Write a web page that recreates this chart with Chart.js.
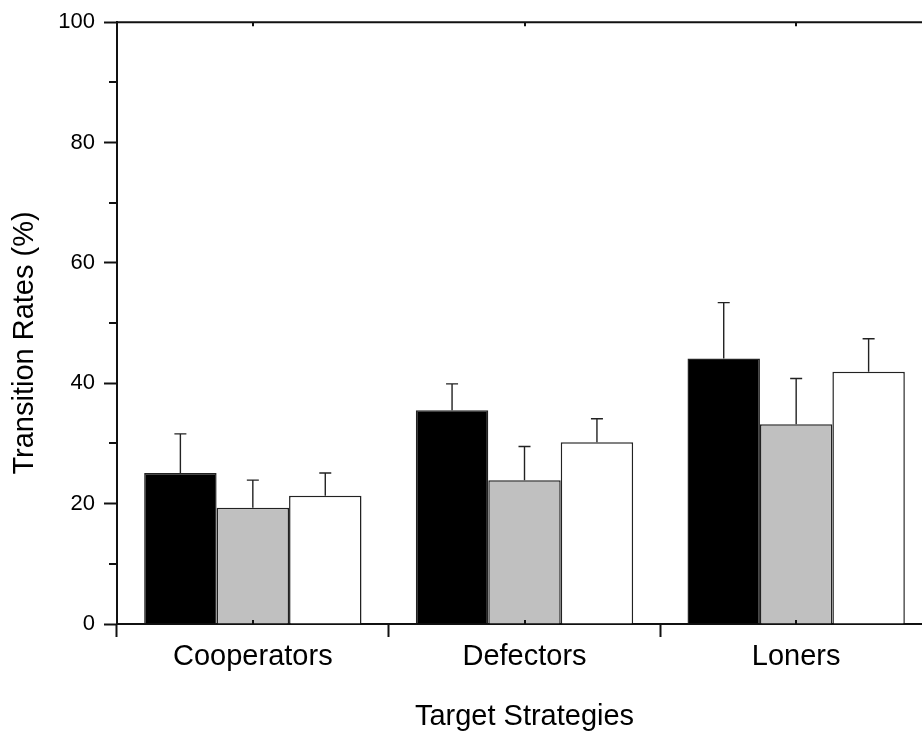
<!DOCTYPE html>
<html>
<head>
<meta charset="utf-8">
<script src="https://cdn.jsdelivr.net/npm/chart.js@4.4.1/dist/chart.umd.min.js"></script>
<style>
  html, body { margin: 0; padding: 0; background: #fff; overflow: hidden; }
  #wrap { width: 932px; height: 744px; }
</style>
</head>
<body>
<div id="wrap"><canvas id="chart" width="932" height="744"></canvas></div>
<script>
const categories = ['Cooperators', 'Defectors', 'Loners'];

const blackValues = [25.1, 35.5, 44.1];
const blackErrors = [6.5, 4.4, 9.3];
const grayValues = [19.3, 23.9, 33.2];
const grayErrors = [4.6, 5.6, 7.6];
const whiteValues = [21.3, 30.2, 41.9];
const whiteErrors = [3.8, 3.9, 5.5];

const yTicks = [0, 20, 40, 60, 80, 100];
const yMinorTicks = [10, 30, 50, 70, 90];

const FONT = "'Liberation Sans', Arial, sans-serif";

// draws the upper error bars, minor ticks, top frame line and y title
const extrasPlugin = {
    id: 'extras',
    afterDatasetsDraw(chart) {
        const ctx = chart.ctx;
        const y = chart.scales.y;
        ctx.save();
        ctx.strokeStyle = '#222';
        ctx.lineWidth = 1.4;
        chart.data.datasets.forEach((ds, di) => {
            const meta = chart.getDatasetMeta(di);
            meta.data.forEach((bar, i) => {
                const top = y.getPixelForValue(ds.data[i] + ds.errors[i]);
                ctx.beginPath();
                ctx.moveTo(bar.x, bar.y);
                ctx.lineTo(bar.x, top);
                ctx.moveTo(bar.x - 6, top);
                ctx.lineTo(bar.x + 6, top);
                ctx.stroke();
            });
        });
        ctx.restore();
    },
    afterDraw(chart) {
        const ctx = chart.ctx;
        const area = chart.chartArea;
        const x = chart.scales.x;
        const y = chart.scales.y;
        ctx.save();
        ctx.strokeStyle = '#111';
        ctx.lineWidth = 2;

        // top frame line
        ctx.beginPath();
        ctx.moveTo(area.left - 1, area.top);
        ctx.lineTo(area.right, area.top);
        ctx.stroke();

        // minor y ticks, outside
        yMinorTicks.forEach(v => {
            const py = Math.round(y.getPixelForValue(v));
            ctx.beginPath();
            ctx.moveTo(area.left - 8, py);
            ctx.lineTo(area.left, py);
            ctx.stroke();
        });

        // minor x ticks at category centres, inside, bottom and top
        categories.forEach((c, i) => {
            const px = Math.round(x.getPixelForValue(i));
            ctx.beginPath();
            ctx.moveTo(px, area.bottom);
            ctx.lineTo(px, area.bottom - 4);
            ctx.moveTo(px, area.top);
            ctx.lineTo(px, area.top + 4);
            ctx.stroke();
        });

        // y axis title
        ctx.fillStyle = '#000';
        ctx.font = '29px ' + FONT;
        ctx.textAlign = 'center';
        ctx.textBaseline = 'middle';
        ctx.translate(25, 343);
        ctx.rotate(-Math.PI / 2);
        ctx.fillText('Transition Rates (%)', 0, 0);
        ctx.restore();
    }
};

const barStyle = { borderColor: '#222', borderWidth: 1.5, barPercentage: 1.0, categoryPercentage: 0.8 };

new Chart(document.getElementById('chart'), {
    type: 'bar',
    data: {
        labels: categories,
        datasets: [
            { label: 'Black', data: blackValues, errors: blackErrors, backgroundColor: '#000', ...barStyle },
            { label: 'Gray', data: grayValues, errors: grayErrors, backgroundColor: '#c0c0c0', ...barStyle },
            { label: 'White', data: whiteValues, errors: whiteErrors, backgroundColor: '#fff', ...barStyle }
        ]
    },
    options: {
        responsive: false,
        animation: false,
        events: [],
        layout: { padding: { top: 21, right: 0, left: 0, bottom: 0 } },
        plugins: { legend: { display: false }, tooltip: { enabled: false } },
        scales: {
            x: {
                offset: true,
                afterFit(scale) { scale.height = 120; },
                grid: { offset: true, drawOnChartArea: false, drawTicks: true, tickLength: 13, tickColor: '#111', tickWidth: 2 },
                border: { color: '#111', width: 2 },
                ticks: { color: '#000', font: { family: FONT, size: 29 }, padding: 3, maxRotation: 0 },
                title: {
                    display: true,
                    text: 'Target Strategies',
                    color: '#000',
                    font: { family: FONT, size: 29, lineHeight: 1 },
                    padding: { top: 0, bottom: 13 }
                }
            },
            y: {
                min: 0,
                max: 100,
                afterFit(scale) { scale.width = 117; },
                afterBuildTicks(scale) { scale.ticks = yTicks.map(v => ({ value: v })); },
                grid: { drawOnChartArea: false, drawTicks: true, tickLength: 13, tickColor: '#111', tickWidth: 2 },
                border: { color: '#111', width: 2 },
                ticks: { color: '#000', font: { family: FONT, size: 22 }, padding: 9 }
            }
        }
    },
    plugins: [extrasPlugin]
});
</script>
</body>
</html>
